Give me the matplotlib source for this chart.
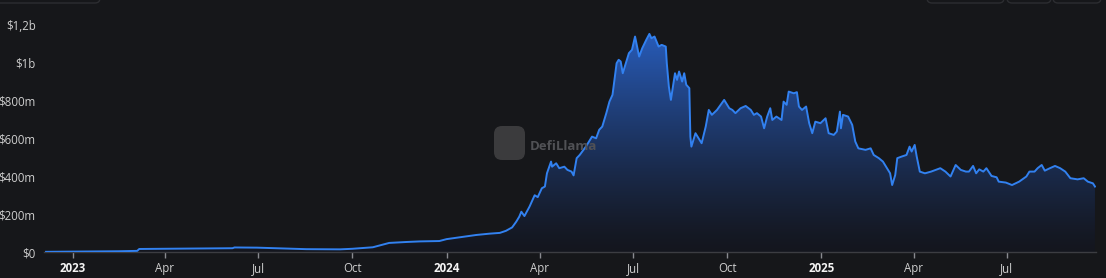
import matplotlib
matplotlib.use("Agg")
import matplotlib.pyplot as plt
import matplotlib.dates as mdates
import numpy as np
import pandas as pd
from matplotlib.patches import FancyBboxPatch
from matplotlib.transforms import IdentityTransform

# ---------------- data (TVL in $ millions) ----------------
dates = [
    "2022-12-06", "2023-02-15", "2023-03-05", "2023-03-07", "2023-06-06", "2023-06-08",
    "2023-06-30", "2023-08-17", "2023-09-19", "2023-10-01", "2023-10-21", "2023-11-06",
    "2023-11-23", "2023-12-06", "2023-12-25", "2024-01-01", "2024-01-14", "2024-01-30",
    "2024-02-12", "2024-02-22", "2024-02-28", "2024-03-05", "2024-03-09", "2024-03-12",
    "2024-03-14", "2024-03-17", "2024-03-22", "2024-03-27", "2024-03-30", "2024-04-03",
    "2024-04-06", "2024-04-08", "2024-04-12", "2024-04-13", "2024-04-17", "2024-04-20",
    "2024-04-25", "2024-04-28", "2024-05-02", "2024-05-04", "2024-05-07", "2024-05-10",
    "2024-05-16", "2024-05-22", "2024-05-26", "2024-05-29", "2024-06-01", "2024-06-05",
    "2024-06-08", "2024-06-11", "2024-06-15", "2024-06-17", "2024-06-19", "2024-06-21",
    "2024-06-24", "2024-06-27", "2024-06-30", "2024-07-03", "2024-07-05", "2024-07-07",
    "2024-07-10", "2024-07-14", "2024-07-17", "2024-07-19", "2024-07-22", "2024-07-26",
    "2024-07-29", "2024-08-02", "2024-08-03", "2024-08-05", "2024-08-07", "2024-08-09",
    "2024-08-11", "2024-08-13", "2024-08-15", "2024-08-18", "2024-08-20", "2024-08-22",
    "2024-08-25", "2024-08-26", "2024-08-27", "2024-08-31", "2024-09-03", "2024-09-06",
    "2024-09-10", "2024-09-13", "2024-09-16", "2024-09-21", "2024-09-28", "2024-10-03",
    "2024-10-06", "2024-10-09", "2024-10-14", "2024-10-19", "2024-10-24", "2024-10-27",
    "2024-10-30", "2024-11-03", "2024-11-06", "2024-11-09", "2024-11-12", "2024-11-14",
    "2024-11-18", "2024-11-23", "2024-11-25", "2024-11-28", "2024-11-30", "2024-12-05",
    "2024-12-08", "2024-12-10", "2024-12-13", "2024-12-17", "2024-12-20", "2024-12-23",
    "2024-12-26", "2024-12-31", "2025-01-05", "2025-01-08", "2025-01-13", "2025-01-16",
    "2025-01-19", "2025-01-20", "2025-01-22", "2025-01-27", "2025-01-31", "2025-02-03",
    "2025-02-06", "2025-02-13", "2025-02-18", "2025-02-21", "2025-02-26", "2025-03-02",
    "2025-03-05", "2025-03-09", "2025-03-11", "2025-03-14", "2025-03-16", "2025-03-20",
    "2025-03-25", "2025-03-28", "2025-03-30", "2025-04-02", "2025-04-04", "2025-04-07",
    "2025-04-12", "2025-04-18", "2025-04-27", "2025-05-02", "2025-05-07", "2025-05-12",
    "2025-05-17", "2025-05-22", "2025-05-25", "2025-05-29", "2025-06-01", "2025-06-04",
    "2025-06-08", "2025-06-11", "2025-06-16", "2025-06-21", "2025-06-23", "2025-06-30",
    "2025-07-06", "2025-07-13", "2025-07-20", "2025-07-23", "2025-07-28", "2025-07-31",
    "2025-08-04", "2025-08-07", "2025-08-12", "2025-08-17", "2025-08-22", "2025-08-27",
    "2025-09-01", "2025-09-08", "2025-09-14", "2025-09-18", "2025-09-23", "2025-09-25",
]
tvl_musd = [
    1, 4, 6, 16, 20, 24,
    23, 15, 14, 17, 25, 48,
    53, 56, 58, 68, 78, 90,
    97, 101, 112, 130, 160, 187,
    213, 190, 240, 300, 290, 337,
    346, 416, 478, 451, 469, 443,
    451, 434, 425, 405, 496, 513,
    557, 610, 601, 646, 663, 735,
    795, 831, 998, 1016, 1007, 945,
    998, 1051, 1069, 1139, 1086, 1033,
    1077, 1122, 1153, 1130, 1139, 1086,
    1095, 1086, 998, 875, 804, 875,
    945, 910, 954, 901, 945, 884,
    866, 610, 557, 628, 601, 575,
    663, 751, 725, 751, 804, 760,
    751, 734, 760, 772, 751, 725,
    734, 716, 654, 716, 760, 698,
    716, 698, 795, 778, 848, 839,
    845, 769, 751, 769, 681, 628,
    689, 681, 707, 628, 619, 637,
    742, 654, 725, 716, 672, 584,
    548, 540, 548, 513, 496, 478,
    451, 416, 354, 407, 496, 504,
    513, 557, 531, 566, 504, 425,
    416, 425, 443, 425, 399, 460,
    434, 425, 425, 455, 416, 437,
    425, 443, 402, 395, 372, 367,
    354, 372, 399, 425, 425, 443,
    460, 430, 443, 455, 443, 425,
    390, 384, 390, 372, 363, 346,
]

x_tick_dates = ["2023-01-01", "2023-04-01", "2023-07-01", "2023-10-01",
                "2024-01-01", "2024-04-01", "2024-07-01", "2024-10-01",
                "2025-01-01", "2025-04-01", "2025-07-01"]
x_tick_labels = ["2023", "Apr", "Jul", "Oct", "2024", "Apr", "Jul", "Oct",
                 "2025", "Apr", "Jul"]
y_ticks = [0, 200, 400, 600, 800, 1000, 1200]
y_tick_labels = ["$0", "$200m", "$400m", "$600m", "$800m", "$1b", "$1,2b"]

# ---------------- style ----------------
BG = "#16171a"
LINE = "#3281f0"
W, H = 1106, 278
FONT = ["Open Sans", "DejaVu Sans"]

fig = plt.figure(figsize=(W / 100, H / 100), dpi=100, facecolor=BG)
ax = fig.add_axes([44 / W, 26 / H, 1052 / W, 227 / H])
ax.set_facecolor(BG)

xs = mdates.date2num(pd.to_datetime(dates))
ys = np.array(tvl_musd, dtype=float)

x0 = mdates.date2num(pd.Timestamp("2022-12-04"))
x1 = mdates.date2num(pd.Timestamp("2025-09-26"))

# gradient area
top_rgb = np.array([40, 92, 186]) / 255.0
bot_rgb = np.array([20, 22, 30]) / 255.0
n = 256
t = (np.linspace(0, 1, n) ** 1.25)[:, None]
grad = bot_rgb[None, :] * (1 - t) + top_rgb[None, :] * t
grad = grad[:, None, :]
im = ax.imshow(grad, extent=[x0, x1, 0, ys.max()], origin="lower",
               aspect="auto", zorder=1, interpolation="bilinear")
poly = ax.fill_between(xs, ys, 0, facecolor="none", edgecolor="none")
im.set_clip_path(poly.get_paths()[0], transform=ax.transData)
ax.set_xlim(x0, x1)
ax.set_ylim(0, 1200)

ax.plot(xs, ys, color=LINE, linewidth=1.4, zorder=3, solid_joinstyle="round")

# axes styling
for s in ["top", "right", "left"]:
    ax.spines[s].set_visible(False)
ax.spines["bottom"].set_color("#3c3d42")
ax.spines["bottom"].set_linewidth(1.0)

ax.set_yticks(y_ticks)
ax.set_yticklabels(y_tick_labels, fontsize=8.3, color="#cfcfcf", family=FONT)
ax.tick_params(axis="y", length=0, pad=6)

ax.set_xticks(mdates.date2num(pd.to_datetime(x_tick_dates)))
ax.set_xticklabels(x_tick_labels, fontsize=8.3, color="#cfcfcf", family=FONT)
ax.tick_params(axis="x", length=4, width=1, color="#8a8b90", pad=3.5)
for lab in ax.get_xticklabels():
    if lab.get_text().isdigit():
        lab.set_fontweight("bold")
        lab.set_color("#f4f4f4")

# watermark
logo = FancyBboxPatch((494, H - 160), 31, 34,
                      boxstyle="round,pad=0,rounding_size=8",
                      transform=IdentityTransform(), facecolor="#3b3b3d",
                      edgecolor="none", zorder=2)
fig.add_artist(logo)
fig.text(530 / W, 1 - 146 / H, "DefiLlama", fontsize=9.5, fontweight="bold",
         color="#505155", family=FONT, va="center", ha="left")

# faint UI button edges at the top
for (bx, bw) in [(-10, 110), (927, 77), (1007, 44), (1053, 48)]:
    p = FancyBboxPatch((bx, H - 3), bw, 30,
                       boxstyle="round,pad=0,rounding_size=5",
                       transform=IdentityTransform(), facecolor=BG,
                       edgecolor="#2c2d31", linewidth=1.0, zorder=0)
    fig.add_artist(p)

fig.savefig("out.png", dpi=100, facecolor=BG)
